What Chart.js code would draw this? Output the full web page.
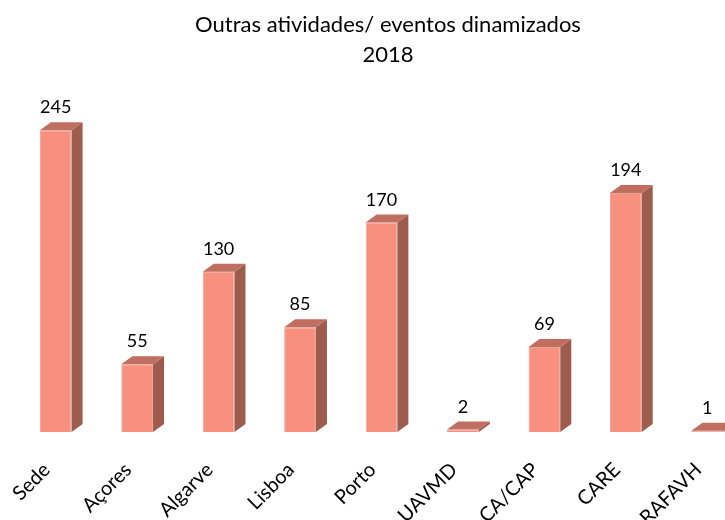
<!DOCTYPE html>
<html>
<head>
<meta charset="utf-8">
<script src="https://cdn.jsdelivr.net/npm/chart.js@4/dist/chart.umd.min.js"></script>
<style>
  html, body { margin: 0; padding: 0; background: #fff; overflow: hidden; }
  #wrap { width: 776px; height: 520px; }
</style>
</head>
<body>
<div id="wrap"><canvas id="chart" width="776" height="520"></canvas></div>
<script>
const categories = ["Sede", "Açores", "Algarve", "Lisboa", "Porto", "UAVMD", "CA/CAP", "CARE", "RAFAVH"];
const values = [245, 55, 130, 85, 170, 2, 69, 194, 1];
const titleLines = ["Outras atividades/ eventos dinamizados", "2018"];

const FONT = "Lato, 'Open Sans', sans-serif";
const DX = 11, DY = 8;

// side + top faces for the 3D look, value labels above
const bars3d = {
  id: "bars3d",
  afterDatasetsDraw(chart) {
    const ctx = chart.ctx;
    const meta = chart.getDatasetMeta(0);
    ctx.save();
    meta.data.forEach((bar, i) => {
      const w = bar.width;
      const l = bar.x - w / 2, r = bar.x + w / 2;
      const top = bar.y, base = bar.base;
      ctx.fillStyle = "#9e5c4e";
      ctx.beginPath();
      ctx.moveTo(r, top);
      ctx.lineTo(r + DX, top - DY);
      ctx.lineTo(r + DX, base - DY);
      ctx.lineTo(r, base);
      ctx.closePath();
      ctx.fill();
      ctx.fillStyle = "#c06e60";
      ctx.beginPath();
      ctx.moveTo(l, top);
      ctx.lineTo(l + DX, top - DY);
      ctx.lineTo(r + DX, top - DY);
      ctx.lineTo(r, top);
      ctx.closePath();
      ctx.fill();
      ctx.fillStyle = "#000";
      ctx.font = "18px " + FONT;
      ctx.textAlign = "center";
      ctx.textBaseline = "alphabetic";
      ctx.fillText(String(values[i]), bar.x, top - DY - 9);
    });
    ctx.restore();
  }
};

// title drawn by hand, it sits a bit right of the plot centre in the original
const titleDraw = {
  id: "titleDraw",
  afterDraw(chart) {
    const ctx = chart.ctx;
    ctx.save();
    ctx.fillStyle = "#000";
    ctx.font = "22px " + FONT;
    ctx.textAlign = "center";
    ctx.textBaseline = "alphabetic";
    ctx.fillText(titleLines[0], 388, 32);
    ctx.fillText(titleLines[1], 388, 62);
    ctx.restore();
  }
};

new Chart(document.getElementById("chart").getContext("2d"), {
  type: "bar",
  data: {
    labels: categories,
    datasets: [{
      data: values,
      backgroundColor: "#f7907e",
      borderColor: "#e8a296",
      borderWidth: 1,
      categoryPercentage: 1,
      barPercentage: 0.39
    }]
  },
  options: {
    responsive: false,
    animation: false,
    layout: { padding: { left: 15, right: 28, top: 87, bottom: 0 } },
    plugins: {
      legend: { display: false },
      tooltip: { enabled: false },
      title: { display: false }
    },
    scales: {
      x: {
        grid: { display: false, drawTicks: false },
        border: { display: false },
        afterFit(scale) {
          scale.height = 88;
          scale.paddingLeft = 0;
          scale.paddingRight = 0;
        },
        ticks: {
          color: "#000",
          font: { family: FONT, size: 20 },
          minRotation: 45,
          maxRotation: 45,
          padding: 26,
          labelOffset: -9
        }
      },
      y: {
        display: false,
        min: 0,
        max: 280
      }
    }
  },
  plugins: [bars3d, titleDraw]
});
</script>
</body>
</html>
